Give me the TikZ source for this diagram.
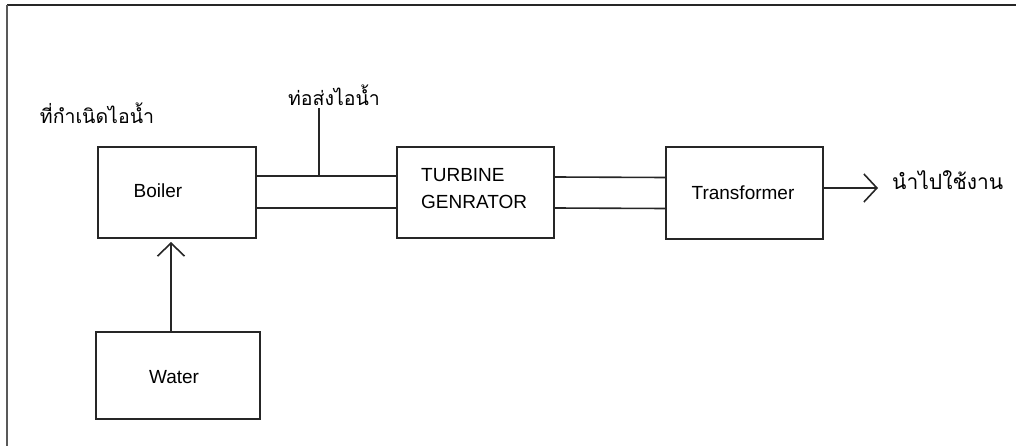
\documentclass[tikz,border=0pt]{standalone}
\usepackage{fontspec}
\setmainfont{Liberation Sans}
\newfontfamily\thaifont[Script=Thai]{Loma}
\usetikzlibrary{arrows.meta}
\tikzset{
  blk/.style={draw=black!85, line width=1.6pt, minimum width=158pt, minimum height=91pt, inner sep=0pt},
  lbl/.style={font=\fontsize{19}{21}\selectfont, inner sep=0pt},
  wire/.style={draw=black!85, line width=1.6pt},
  thai/.style={font=\thaifont\fontsize{19.5}{22}\selectfont, inner sep=0pt},
}
\begin{document}
\begin{tikzpicture}[x=1pt,y=-1pt]
\useasboundingbox (0,0) rectangle (1016,446);
% frame
\draw[line width=2pt, black!85] (7,5) -- (1016,5);
\draw[line width=2pt, black!65] (7,5) -- (7,446);
% blocks
\node[blk] (boiler) at (177,192.5) {};
\node[blk, minimum width=164pt, minimum height=87pt] (water) at (178,375.5) {};
\node[blk, minimum width=157pt] (turbine) at (475.5,192.5) {};
\node[blk, minimum width=157pt, minimum height=92pt] (trans) at (744.5,193) {};
\node[lbl] (btext) at (158,191) {Boiler};
\node[lbl] (wtext) at (174,377) {Water};
\node[lbl] (trtext) at (743,193) {Transformer};
\node[lbl, font=\fontsize{19}{27}\selectfont, align=left, anchor=west] (ttext) at (421,189) {TURBINE\\GENRATOR};
% labels
\node[thai] (srclabel) at (97,113) {ที่กำเนิดไอน้ำ};
\node[thai] (pipelabel) at (334,95) {ท่อส่งไอน้ำ};
\node[thai, anchor=west, font=\thaifont\fontsize{21}{22}\selectfont] (uselabel) at (892,180) {นำไปใช้งาน};
% pipes
\draw[wire] ([yshift=16.5pt]boiler.east) -- ([yshift=16.5pt]turbine.west);
\draw[wire] ([yshift=-15.5pt]boiler.east) -- ([yshift=-15.5pt]turbine.west);
\draw[wire] ([yshift=15.5pt]turbine.east) -- ([yshift=15.5pt]trans.west);
\draw[wire] ([yshift=-15.5pt]turbine.east) -- ([yshift=-15.5pt]trans.west);
\coordinate (tap) at (319,176);
\draw[wire] (tap) -- (tap |- 0,108);
% arrows
\coordinate (wtop) at (171,332);
\coordinate (btip) at (171,242);
\draw[wire, -{Straight Barb[length=13pt, width=27pt, line width=1.6pt]}] (water.north -| wtop) -- (btip);
\coordinate (outtip) at (878,188);
\draw[wire, -{Straight Barb[length=13pt, width=28pt, line width=1.6pt]}] (trans.east |- outtip) -- (outtip);
\end{tikzpicture}
\end{document}
